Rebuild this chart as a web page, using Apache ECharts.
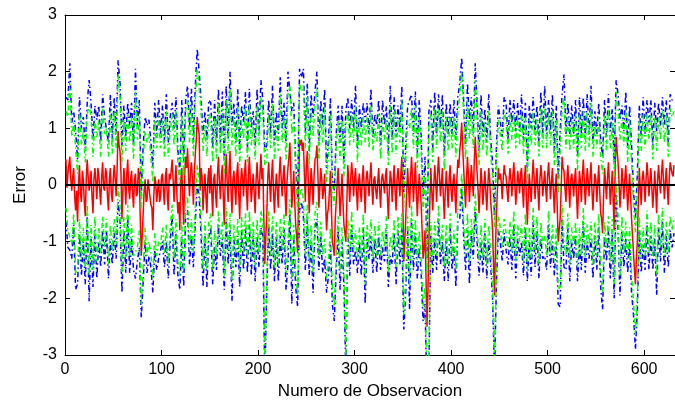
<!DOCTYPE html>
<html><head><meta charset="utf-8">
<script src="https://cdn.jsdelivr.net/npm/echarts@6/dist/echarts.min.js"></script>
<style>html,body{margin:0;padding:0;background:#fff}#c{width:675px;height:407px}</style>
</head><body><div id="c"></div>
<script>
// Error series: one value per observation 1..631
const errorStart = 1, errorStep = 1;
// Band series: one value every 2 observations, 1, 3, ... 631
const bandStart = 1, bandStep = 2;
const xTicks = [0,100,200,300,400,500,600];
const yTicks = [-3,-2,-1,0,1,2,3];
const xTitle = 'Numero de Observacion';
const yTitle = 'Error';

// Error (red)
const errorVals = [
.45,-.05,.2,.35,.5,.1,-.1,.15,.3,-.2,-.45,-.1,-.65,.05,.35,-.15,-.3,.25,.1,-.3,-.55,.1,.45,.15,-.1,.05,.25,-.2,-.5,.1,.3,.05,-.25,.3,.2,-.1,-.35,.15,.4,-.05,-.1,.3,.2,-.2,-.45,.1,.3,-.15,-.3,.1,
.35,.1,-.2,.3,.95,.7,.6,.2,-.6,-.1,.3,.05,-.35,.2,.45,-.05,-.25,.1,.25,-.15,-.4,.1,.2,-.2,-.15,.3,.2,-.6,-1.25,-.9,-.5,-.1,.1,-.3,-.25,.1,-.05,-.2,-.35,-.4,-.8,-.2,.15,.05,-.3,-.1,.1,-.3,-.2,.15,
.2,-.1,-.35,.15,.3,-.2,-.45,.2,.1,.25,.45,.1,-.3,.05,.35,-.2,-.5,-.3,-.8,.1,.3,-.25,-.7,.2,.5,.3,.65,.15,-.2,.25,.4,.1,-.35,.2,.55,.8,1.2,1.0,.9,-.1,.3,.15,-.45,-.1,.2,-.2,-.5,.1,.3,-.15,
.35,-.1,-.55,.1,.2,-.15,-.4,.2,.5,.05,-.25,.15,.35,-.2,-.7,.1,.55,.05,-.3,.25,.6,-.1,-.5,.1,.25,-.05,-.35,.2,.4,-.15,-.6,.05,.3,.1,-.2,.2,.45,-.1,-.45,.15,.5,.1,-.3,-.05,.2,-.15,-.5,.1,.4,.05,
-.25,.2,.55,.1,.3,-.6,-1.4,-.9,-.6,.1,.4,.05,-.3,.15,.45,-.1,-.5,-.05,.2,-.1,-.4,.2,.5,.1,-.2,.15,.35,-.15,-.55,.05,.3,.5,.75,.2,-.4,-.1,.25,-.3,-.7,-.9,-1.2,-.2,.8,.7,.8,.6,.75,.2,-.3,.3,
.6,.1,-.5,-.1,.3,.05,-.35,.15,.45,.5,.7,.2,-.4,-.05,.3,.1,-.25,-.1,.2,-.3,-.8,-.5,-.4,-.1,.25,-.4,-1.0,-1.1,-1.25,-.6,-.3,.05,.3,-.1,-.55,-.2,.2,-.3,-.7,-.85,-1.0,-.3,.35,.05,-.3,.1,.4,.15,-.2,.1,
.3,-.1,-.45,.05,.2,-.1,-.3,.1,.35,-.05,-.5,.1,.25,.05,-.2,.15,.4,-.05,-.35,.1,.15,-.1,-.25,.05,.3,-.1,-.4,.1,.2,.05,-.15,.15,.3,-.2,-.6,-.1,.25,.1,-.3,.05,.35,-.1,-.45,.1,.3,.05,-.2,.2,.5,-.3,
-1.35,-1.0,-.6,-.1,.3,-.05,-.4,.1,.5,.15,-.3,.05,.4,-.1,-.55,-.15,.2,-.05,-.35,-.8,-1.3,-1.1,-.8,-1.6,-2.5,-1.9,-1.0,-.3,.3,-.1,-.45,-.05,.35,.1,-.3,.2,.5,.15,-.2,.05,.3,-.2,-.6,-.1,.25,-.05,-.4,.1,.35,-.1,
-.3,.05,.2,-.15,-.5,.1,.45,.3,.6,.8,1.1,.7,.3,-.05,-.4,.1,.5,.15,-.3,.05,.35,.1,-.2,.4,.85,.5,.2,-.1,-.5,-.1,.3,.05,-.35,-.05,.25,-.1,-.45,-.05,.3,.1,-.3,-.5,-.8,-1.4,-1.95,-1.1,-.5,-.1,.3,.1,
.2,.05,-.25,.1,.35,.2,.15,-.1,-.3,.05,.3,.1,-.2,.15,.4,.05,-.35,-.1,.25,.1,-.15,.2,.3,-.05,-.4,.1,.35,-.2,-.7,-.2,.2,-.05,-.3,.1,.45,.15,-.25,.05,.3,-.1,-.45,.1,.35,.15,-.2,.05,.25,-.05,-.3,.15,
.4,.1,-.25,.05,.3,-.1,-.5,-.05,.2,-.4,-1.0,-.8,-.6,-.1,.5,.3,.25,-.05,-.3,.1,.35,-.05,-.4,.1,.2,.05,-.2,.1,.3,-.2,-.6,-.1,.25,.05,-.3,.15,.45,.1,-.35,-.05,.3,.1,-.2,.15,.4,-.1,-.45,-.05,.2,.1,
-.3,.05,.35,-.1,-.5,-.6,-.85,-.2,.3,.05,-.25,.1,.4,.05,-.35,-.05,.25,-.3,-.8,.3,.85,.6,.4,.05,-.4,-.1,.3,.05,-.25,.1,.35,-.05,-.45,-.1,.2,-.2,-.6,-.9,-1.2,-1.5,-1.75,-1.3,-1.0,-.3,.3,-.05,-.35,.1,.25,.05,
-.3,.1,.4,.15,-.2,.05,.3,-.05,-.4,-.1,.25,-.1,-.5,.1,.35,.05,-.15,.2,.45,.1,-.25,.05,.3,-.05,-.35,.1,.4,.3,.2,.15,.35
];

// Outer band, upper (blue)
const blueUpper = [
1.55,1.5,2.15,1.1,1.3,.95,.45,1.55,1.0,1.2,.65,1.45,1.85,1.45,.8,1.4,1.15,1.4,.75,1.6,1.2,1.2,.75,1.6,.8,
1.55,.9,2.2,1.8,.7,1.4,.85,1.45,1.05,1.45,.7,2.05,1.05,1.5,-.15,.7,1.2,1.05,1.15,.75,.3,1.45,.9,1.5,.9,
1.4,.75,1.6,.75,1.2,1.45,1.0,1.55,.6,.25,1.5,.4,1.5,1.75,1.0,1.7,.75,1.75,2.4,2.0,1.5,.9,1.3,.8,1.5,
1.45,.65,1.5,.7,1.7,.75,1.65,.45,1.75,.8,2.0,1.05,1.45,.75,1.7,.6,1.4,1.1,1.65,.65,1.7,1.0,1.3,.7,1.7,
.95,1.85,1.5,.6,.7,1.5,.9,1.75,.7,1.3,.9,1.9,1.0,1.45,.75,2.0,2.0,1.3,1.45,.4,-.25,2.05,1.9,2.05,.9,
1.8,.6,1.6,1.2,1.65,2.0,.7,1.5,1.05,1.7,.3,.8,1.55,.1,-.1,.9,1.4,.75,1.4,.4,1.3,1.55,1.0,1.5,1.0,
1.75,.65,1.4,1.0,1.45,1.1,1.45,.9,1.7,.85,1.25,1.05,1.5,.7,1.5,1.05,1.4,.6,1.75,.8,1.55,.85,1.4,1.0,1.75,
-.15,.7,1.4,1.4,1.6,.9,1.65,.55,1.5,.85,-.2,.5,-1.3,1.3,1.5,.65,1.65,.9,1.6,1.0,1.6,.5,1.45,.9,1.45,
.9,1.5,.8,1.55,1.8,2.25,1.5,.7,1.8,1.15,1.55,.9,2.15,1.4,.6,1.6,.85,1.35,.75,1.6,.8,.4,-.55,.7,1.4,
1.4,.85,1.55,1.45,.8,1.5,1.1,1.5,.95,1.45,.95,1.6,.8,1.45,.3,1.4,1.0,1.55,.95,1.4,.75,1.65,.9,1.75,.9,
1.5,.95,1.6,.6,1.4,.1,.95,1.6,1.95,.9,1.45,.9,1.4,.9,1.5,.5,1.55,.9,1.55,.85,1.6,.9,1.75,.75,1.3,
.9,1.45,.8,.5,1.5,.85,1.6,.95,1.35,.4,1.85,1.6,1.15,1.4,.95,1.65,.65,1.4,.7,-.1,-.6,.2,1.4,.85,1.55,
.9,1.5,1.1,1.5,.7,1.45,.95,1.45,1.05,1.55,1.05,1.5,.75,1.6,1.5,1.55
];

// Outer band, lower (blue)
const blueLower = [
-.65,-1.1,-1.15,-1.3,-.7,-1.85,-1.75,-.85,-1.6,-1.0,-1.75,-.55,-2.05,-.95,-1.8,-.8,-1.65,-1.0,-1.45,-.8,-1.4,-.8,-1.65,-1.0,-1.4,
-.85,-1.3,-.3,-.6,-1.9,-.8,-1.55,-.55,-1.55,-.95,-1.5,-1.65,-1.35,-1.1,-2.35,-1.7,-1.0,-1.55,-1.25,-1.45,-1.9,-1.15,-1.5,-1.3,-1.3,
-1.0,-1.45,-1.0,-1.65,-1.0,-.55,-1.6,-.85,-1.6,-1.85,-.9,-1.8,-.5,-.45,-1.4,-.9,-1.45,-.65,0,-.2,-.9,-1.8,-.9,-1.8,-.9,
-.75,-1.75,-1.1,-1.5,-.7,-1.25,-.95,-1.85,-.65,-1.4,-.8,-2.05,-.95,-1.45,-.9,-1.8,-.8,-1.5,-.75,-1.55,-.7,-1.6,-.9,-1.7,-.9,
-1.45,-.75,-.9,-3.4,-1.9,-.7,-1.5,-.85,-1.7,-.9,-1.7,-.9,-1.4,-.75,-1.85,-1.4,-.5,-2.1,-.95,-1.8,-2.15,-.45,-.3,-.55,-1.5,
-.6,-1.6,-1.0,-1.9,-.75,-.6,-1.5,-.9,-1.55,-1.3,-1.9,-1.6,-1.05,-2.1,-2.4,-1.5,-.8,-1.85,-1.0,-1.8,-3.3,-.85,-1.6,-.7,-1.4,
-1.15,-1.55,-1.0,-1.6,-.75,-2.1,-.95,-1.3,-.9,-1.55,-.95,-1.55,-.9,-1.5,-1.1,-1.35,-.8,-1.8,-1.25,-1.4,-.85,-1.75,-.8,-1.4,-.75,
-2.55,-1.9,-.8,-2.2,-.6,-1.5,-.85,-1.65,-1.1,-1.55,-2.4,-2.1,-3.7,-3.3,-.9,-1.55,-.95,-1.5,-.6,-1.4,-1.0,-1.7,-.95,-1.7,-.75,
-1.5,-1.1,-1.8,-.65,-.6,-.05,-.9,-1.5,-.8,-1.75,-.85,-1.3,-.45,-1.0,-1.6,-1.0,-1.55,-.85,-1.65,-1.0,-1.4,-2.0,-3.35,-1.7,-.8,
-1.0,-1.35,-.85,-1.15,-1.4,-.9,-1.5,-.7,-1.65,-.95,-1.25,-1.0,-1.6,-.75,-1.7,-1.0,-1.6,-.65,-1.45,-.8,-1.65,-.95,-1.3,-1.25,-1.5,
-.7,-1.45,-1.0,-1.6,-1.0,-2.1,-2.15,-.6,-1.45,-1.5,-.75,-1.7,-1.0,-1.3,-.9,-1.7,-1.05,-1.5,-.65,-1.55,-1.0,-1.3,-.95,-1.65,-.9,
-1.5,-.75,-1.8,-2.2,-.9,-1.35,-.8,-1.65,-.85,-2.0,-.15,-.8,-1.95,-.8,-1.45,-.95,-1.55,-1.0,-1.9,-2.3,-2.9,-2.2,-.8,-1.55,-1.05,
-1.5,-.7,-1.5,-.9,-1.5,-.95,-1.95,-.75,-1.35,-.65,-1.55,-.9,-1.45,-.8,-1.1,-.85
];

// Inner band, upper (green)
const greenUpper = [
1.3,1.2,1.8,.85,1.1,.65,.2,1.3,.7,.95,.4,1.25,1.4,1.2,.5,1.15,.85,1.15,.5,1.35,.9,1.0,.5,1.3,.55,
1.3,.65,1.95,1.55,.4,1.15,.6,1.25,.75,1.2,.45,1.65,.8,1.2,-.4,.45,.95,.75,.9,.5,.05,1.15,.65,1.2,.65,
1.15,.5,1.3,.5,.95,1.25,.7,1.3,.35,0,1.25,.15,1.3,1.5,.75,1.4,.5,1.5,2.05,1.75,1.25,.6,1.05,.5,1.25,
1.2,.4,1.2,.45,1.45,.55,1.35,.2,1.5,.55,1.7,.7,1.2,.5,1.4,.35,1.15,.8,1.4,.4,1.45,.7,1.05,.45,1.4,
.7,1.55,1.25,.35,.4,1.25,.65,1.45,.45,1.05,.6,1.6,.75,1.2,.45,1.6,1.75,.9,1.2,.15,-.45,1.8,1.65,1.75,.65,
1.55,.35,1.3,.85,1.4,1.7,.45,1.25,.75,1.35,.05,.55,1.25,-.15,-.35,.65,1.15,.45,1.15,.15,1.05,1.3,.7,1.25,.75,
1.4,.4,1.15,.7,1.2,.75,1.2,.65,1.4,.6,1.0,.75,1.25,.45,1.2,.8,1.15,.35,1.4,.55,1.3,.55,1.15,.75,1.5,
-.4,.4,1.15,1.0,1.35,.65,1.4,.3,1.2,.6,-.45,.2,-1.55,1.05,1.25,.4,1.35,.65,1.35,.75,1.3,.25,1.2,.6,1.2,
.65,1.2,.5,1.3,1.55,2.0,1.25,.45,1.5,.8,1.3,.65,1.85,1.15,.35,1.3,.6,1.1,.5,1.3,.55,.15,-.75,.45,1.15,
1.15,.6,1.3,1.15,.55,1.25,.8,1.25,.65,1.2,.7,1.3,.55,1.2,.1,1.15,.7,1.3,.7,1.15,.5,1.35,.65,1.4,.65,
1.25,.7,1.3,.35,1.15,-.15,.6,1.35,1.55,.65,1.2,.6,1.15,.65,1.25,.25,1.25,.65,1.3,.6,1.3,.65,1.45,.5,1.05,
.65,1.2,.5,.2,1.25,.6,1.35,.65,1.1,.15,1.65,1.35,.8,1.15,.7,1.35,.4,1.15,.4,-.35,-.85,-.05,1.15,.6,1.25,
.65,1.25,.8,1.25,.45,1.2,.6,1.2,.8,1.3,.75,1.25,.5,1.35,1.2,1.3
];

// Inner band, lower (green)
const greenLower = [
-.4,-.8,-.8,-1.05,-.5,-1.55,-1.5,-.6,-1.3,-.75,-1.5,-.35,-1.6,-.7,-1.5,-.55,-1.35,-.75,-1.2,-.55,-1.1,-.6,-1.4,-.7,-1.15,
-.6,-1.05,-.05,-.35,-1.6,-.55,-1.3,-.35,-1.25,-.7,-1.25,-1.25,-1.1,-.8,-2.1,-1.45,-.75,-1.25,-1.0,-1.2,-1.65,-.85,-1.25,-1.0,-1.05,
-.75,-1.2,-.7,-1.4,-.75,-.35,-1.3,-.6,-1.35,-1.6,-.65,-1.55,-.3,-.2,-1.15,-.6,-1.2,-.4,.35,.05,-.65,-1.5,-.65,-1.5,-.65,
-.5,-1.5,-.8,-1.25,-.45,-1.05,-.65,-1.6,-.4,-1.15,-.5,-1.7,-.7,-1.2,-.6,-1.55,-.55,-1.2,-.5,-1.3,-.45,-1.3,-.65,-1.45,-.6,
-1.2,-.45,-.65,-3.15,-1.6,-.45,-1.25,-.55,-1.45,-.65,-1.4,-.6,-1.15,-.5,-1.55,-1.0,-.25,-1.7,-.7,-1.55,-1.95,-.2,-.05,-.25,-1.25,
-.35,-1.35,-.7,-1.55,-.5,-.3,-1.25,-.65,-1.25,-.95,-1.65,-1.35,-.75,-1.85,-2.15,-1.25,-.55,-1.55,-.75,-1.55,-3.05,-.6,-1.3,-.45,-1.15,
-.8,-1.3,-.75,-1.3,-.5,-1.75,-.7,-1.05,-.6,-1.3,-.7,-1.25,-.65,-1.25,-.8,-1.1,-.55,-1.55,-.9,-1.15,-.6,-1.45,-.55,-1.15,-.5,
-2.3,-1.6,-.55,-1.8,-.35,-1.25,-.6,-1.4,-.8,-1.3,-2.15,-1.8,-3.45,-3.05,-.65,-1.3,-.65,-1.25,-.35,-1.15,-.7,-1.45,-.7,-1.4,-.5,
-1.25,-.8,-1.5,-.4,-.35,.2,-.65,-1.25,-.5,-1.4,-.6,-1.05,-.15,-.75,-1.35,-.7,-1.3,-.6,-1.4,-.7,-1.15,-1.75,-3.15,-1.45,-.55,
-.75,-1.1,-.6,-.85,-1.15,-.65,-1.2,-.45,-1.35,-.7,-1.0,-.7,-1.35,-.5,-1.5,-.75,-1.3,-.4,-1.2,-.55,-1.4,-.65,-1.05,-.9,-1.25,
-.45,-1.2,-.7,-1.35,-.75,-1.85,-1.8,-.35,-1.05,-1.25,-.5,-1.4,-.75,-1.05,-.65,-1.45,-.75,-1.25,-.4,-1.3,-.7,-1.05,-.65,-1.4,-.65,
-1.25,-.5,-1.5,-1.9,-.65,-1.1,-.55,-1.35,-.6,-1.75,.05,-.55,-1.6,-.55,-1.2,-.65,-1.3,-.75,-1.6,-2.05,-2.65,-1.95,-.55,-1.3,-.75,
-1.25,-.45,-1.2,-.65,-1.25,-.7,-1.6,-.5,-1.1,-.4,-1.25,-.65,-1.2,-.55,-.8,-.6
];

[blueUpper, blueLower, greenUpper, greenLower].forEach((a, k) => {
  if (a.length !== blueUpper.length) console.error('band length mismatch ' + k + ': ' + a.length);
});
if (errorVals.length !== 631) console.error('error length ' + errorVals.length);

function pts(arr, start, step) { return arr.map((v, i) => [start + step * i, v]); }

const FONT = "'Liberation Sans', Arial, Helvetica, sans-serif";
const dashDot = [5, 3, 1.5, 3];
const xMax = 632;

const chart = echarts.init(document.getElementById('c'), null, { renderer: 'canvas' });
const axisLineStyle = { color: '#000', width: 1 };

chart.setOption({
  animation: false,
  backgroundColor: '#fff',
  grid: { left: 65, top: 15, right: 0, bottom: 52, containLabel: false },
  xAxis: [
    {
      type: 'value', position: 'bottom', min: 0, max: xMax,
      name: xTitle, nameLocation: 'middle', nameGap: 27,
      nameTextStyle: { fontFamily: FONT, fontSize: 17, color: '#000' },
      axisLine: { show: true, onZero: false, lineStyle: axisLineStyle },
      axisTick: { show: true, inside: true, length: 5, lineStyle: axisLineStyle, customValues: xTicks },
      axisLabel: { show: true, margin: 7, fontFamily: FONT, fontSize: 16, color: '#000', customValues: xTicks },
      splitLine: { show: false }
    },
    {
      type: 'value', position: 'top', min: 0, max: xMax,
      axisLine: { show: true, onZero: false, lineStyle: axisLineStyle },
      axisTick: { show: true, inside: true, length: 5, lineStyle: axisLineStyle, customValues: xTicks },
      axisLabel: { show: false },
      splitLine: { show: false }
    }
  ],
  yAxis: [
    {
      type: 'value', position: 'left', min: -3, max: 3, interval: 1,
      name: yTitle, nameLocation: 'middle', nameGap: 36,
      nameTextStyle: { fontFamily: FONT, fontSize: 17, color: '#000' },
      axisLine: { show: true, onZero: false, lineStyle: axisLineStyle },
      axisTick: { show: true, inside: true, length: 5, lineStyle: axisLineStyle, customValues: yTicks },
      axisLabel: { show: true, margin: 8, fontFamily: FONT, fontSize: 16, color: '#000', customValues: yTicks },
      splitLine: { show: false }
    },
    {
      type: 'value', position: 'right', min: -3, max: 3, interval: 1,
      axisLine: { show: true, onZero: false, lineStyle: axisLineStyle },
      axisTick: { show: true, inside: true, length: 5, lineStyle: axisLineStyle, customValues: yTicks },
      axisLabel: { show: false },
      splitLine: { show: false }
    }
  ],
  series: [
    {
      name: 'error', type: 'line', data: pts(errorVals, errorStart, errorStep), showSymbol: false, symbol: 'none',
      lineStyle: { color: '#ff0000', width: 1.5 }, z: 2, clip: true
    },
    {
      name: 'blueUpper', type: 'line', data: pts(blueUpper, bandStart, bandStep), showSymbol: false, symbol: 'none',
      lineStyle: { color: '#0000ff', width: 1.5, type: dashDot }, z: 3, clip: true
    },
    {
      name: 'blueLower', type: 'line', data: pts(blueLower, bandStart, bandStep), showSymbol: false, symbol: 'none',
      lineStyle: { color: '#0000ff', width: 1.5, type: dashDot }, z: 3, clip: true
    },
    {
      name: 'greenUpper', type: 'line', data: pts(greenUpper, bandStart, bandStep), showSymbol: false, symbol: 'none',
      lineStyle: { color: '#00ff00', width: 1.5, type: dashDot }, z: 4, clip: true
    },
    {
      name: 'greenLower', type: 'line', data: pts(greenLower, bandStart, bandStep), showSymbol: false, symbol: 'none',
      lineStyle: { color: '#00ff00', width: 1.5, type: dashDot }, z: 4, clip: true,
      markLine: {
        silent: true, symbol: 'none', label: { show: false },
        lineStyle: { color: '#000', width: 2, type: 'solid' },
        data: [{ yAxis: 0 }], z: 10
      }
    }
  ]
});
</script>
</body></html>
